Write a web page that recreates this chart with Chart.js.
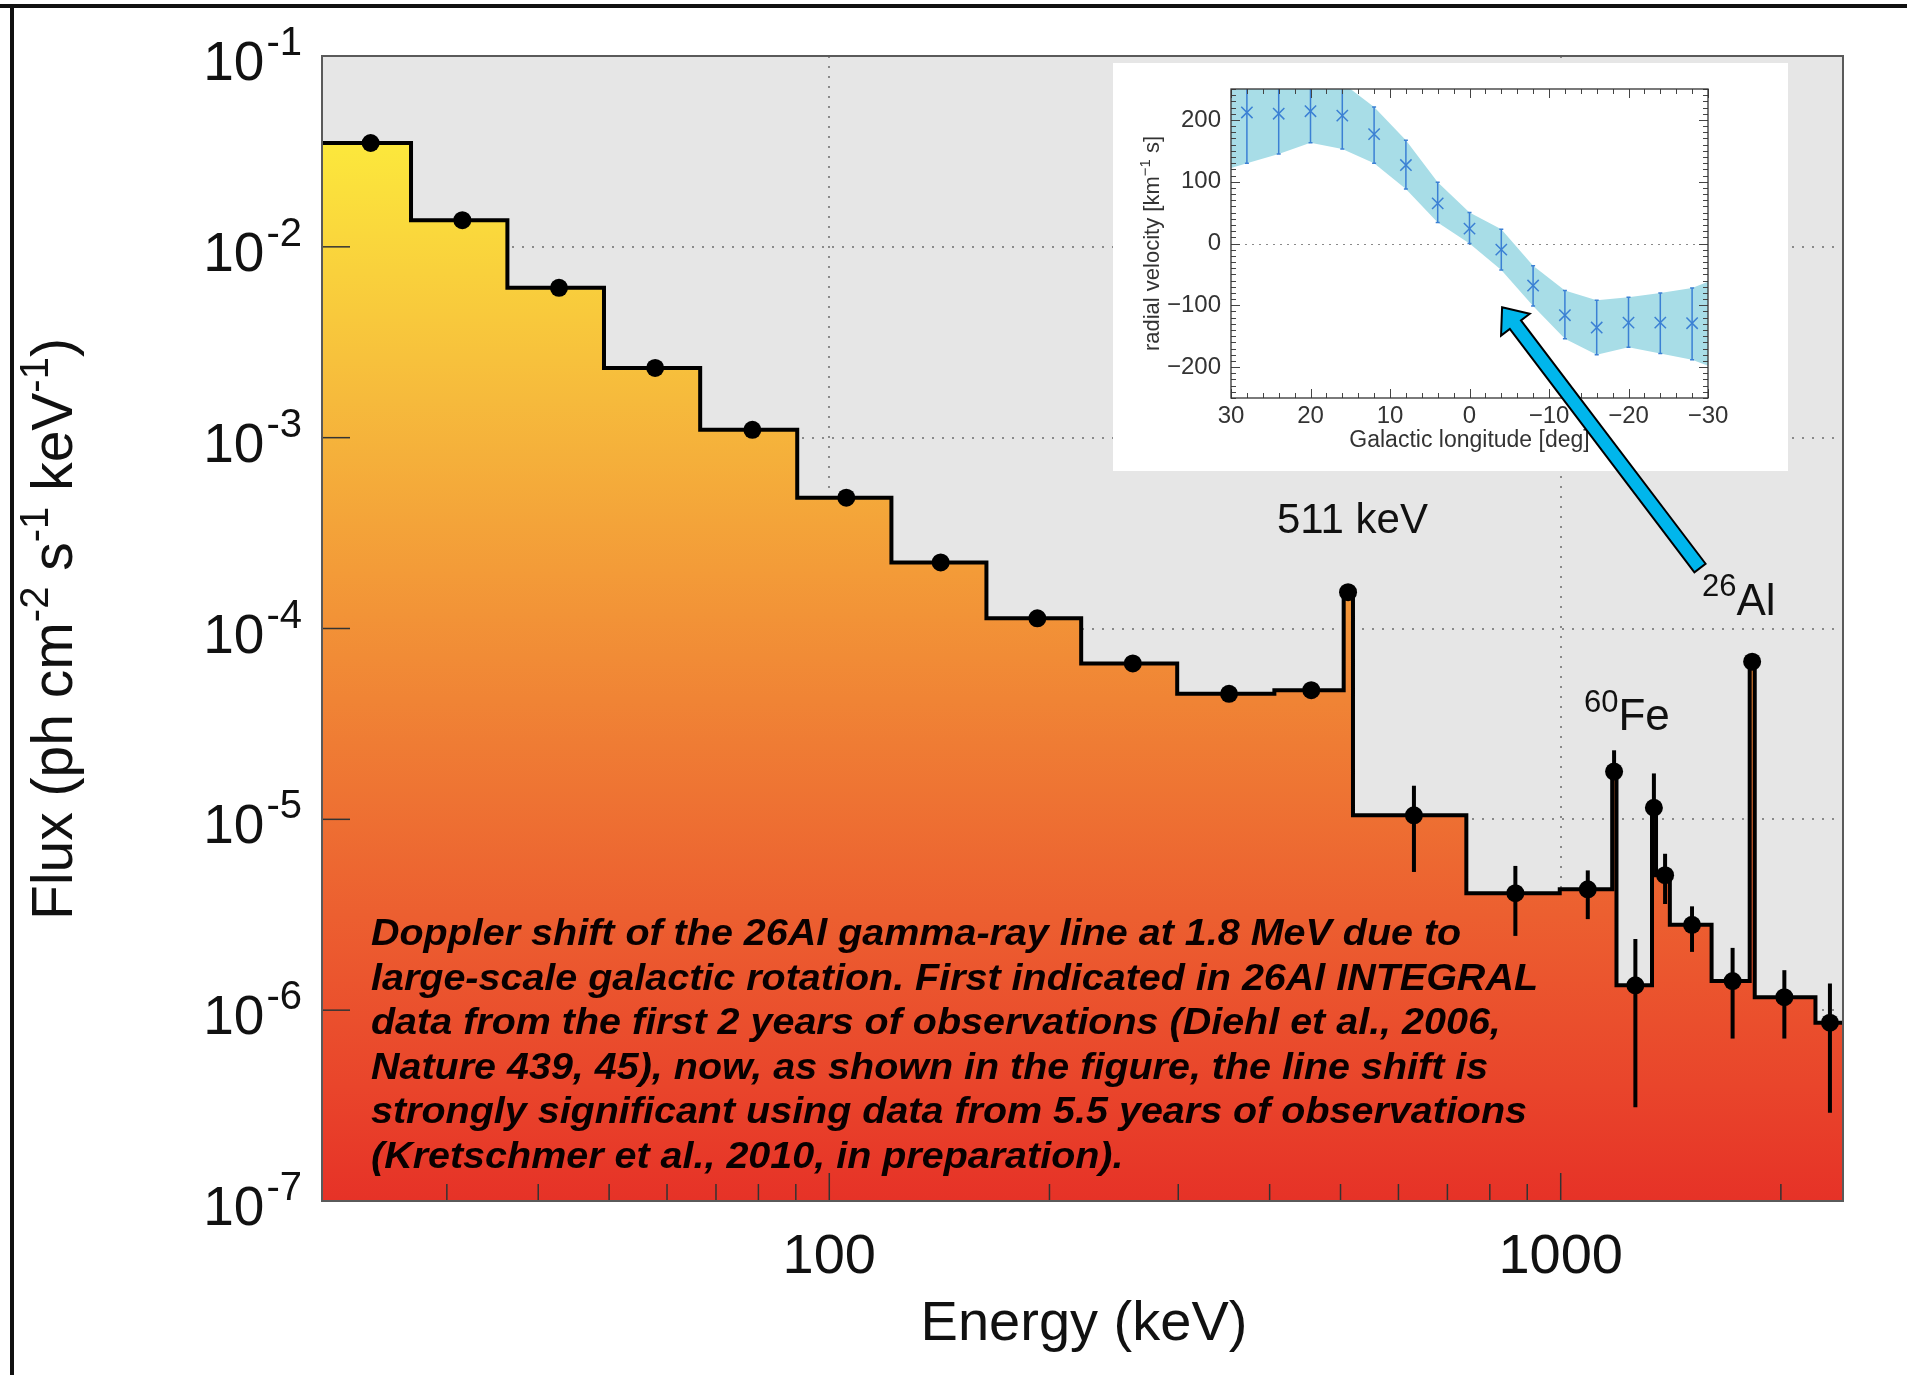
<!DOCTYPE html>
<html>
<head>
<meta charset="utf-8">
<script src="https://cdn.jsdelivr.net/npm/chart.js@4.4.1/dist/chart.umd.min.js"></script>
<style>
  html, body { margin: 0; padding: 0; background: #fff; overflow: hidden; }
  #wrap { position: relative; width: 1907px; height: 1375px; }
  #spec { position: absolute; left: 0; top: 0; }
  #inset { position: absolute; left: 1113px; top: 63px; }
</style>
</head>
<body>
<div id="wrap">
  <canvas id="spec" width="1907" height="1375"></canvas>
  <canvas id="inset" width="675" height="520"></canvas>
</div>
<script>
// ---- spectrum histogram: bin edges (keV) and flux per bin (ph cm^-2 s^-1 keV^-1)
const binEdges = [20.25, 26.8, 36.3, 49.2, 66.6, 90.4, 121.6, 164, 221, 299, 406, 505, 520,
                  743, 997, 1176, 1192, 1333, 1350, 1410, 1608, 1813, 1842, 2230, 2432];
const binFlux = [3.5e-2, 1.38e-2, 6.1e-3, 2.32e-3, 1.10e-3, 4.85e-4, 2.22e-4, 1.13e-4, 6.56e-5,
                 4.55e-5, 4.75e-5, 1.55e-4, 1.05e-5, 4.1e-6, 4.3e-6, 1.78e-5, 1.35e-6, 1.15e-5,
                 5.1e-6, 2.8e-6, 1.42e-6, 6.7e-5, 1.17e-6, 8.6e-7];

// ---- measured points with error bars
const pointEnergy = [23.6, 31.5, 42.7, 57.8, 78.5, 105.5, 142, 192.5, 260, 352, 456, 512,
                     630, 867, 1089, 1183, 1265, 1341, 1389, 1512, 1718, 1827, 2022, 2334];
const pointFlux = [3.5e-2, 1.38e-2, 6.1e-3, 2.32e-3, 1.10e-3, 4.85e-4, 2.22e-4, 1.13e-4, 6.56e-5,
                   4.55e-5, 4.75e-5, 1.55e-4, 1.05e-5, 4.1e-6, 4.3e-6, 1.78e-5, 1.35e-6, 1.15e-5,
                   5.1e-6, 2.8e-6, 1.42e-6, 6.7e-5, 1.17e-6, 8.6e-7];
const pointLo = [3.5e-2, 1.38e-2, 6.1e-3, 2.32e-3, 1.10e-3, 4.85e-4, 2.22e-4, 1.13e-4, 6.56e-5,
                 4.3e-5, 4.45e-5, 1.55e-4, 5.3e-6, 2.45e-6, 3.0e-6, 1.78e-5, 3.1e-7, 1.15e-5,
                 3.6e-6, 2.02e-6, 7.1e-7, 6.7e-5, 7.1e-7, 2.9e-7];
const pointHi = [3.5e-2, 1.38e-2, 6.1e-3, 2.32e-3, 1.10e-3, 4.85e-4, 2.22e-4, 1.13e-4, 6.56e-5,
                 4.85e-5, 5.0e-5, 1.55e-4, 1.5e-5, 5.7e-6, 5.4e-6, 2.3e-5, 2.36e-6, 1.74e-5,
                 6.6e-6, 3.5e-6, 2.12e-6, 6.7e-5, 1.62e-6, 1.38e-6];

// ---- axes
const yTickExp = [-1, -2, -3, -4, -5, -6, -7];
const xTickMajor = [100, 1000];
const xTickMinor = [30, 40, 50, 60, 70, 80, 90, 200, 300, 400, 500, 600, 700, 800, 900, 2000];

// ---- inset: 26Al line centroid vs galactic longitude
const lon = [28, 24, 20, 16, 12, 8, 4, 0, -4, -8, -12, -16, -20, -24, -28];
const vel = [212, 210, 214, 207, 177, 127, 65, 24, -10, -68, -116, -136, -128, -128, -129];
const velHi = [295, 280, 265, 260, 221, 167, 99, 50, 23, -36, -76, -92, -87, -80, -72];
const velLo = [130, 145, 163, 153, 130, 88, 34, 0, -43, -101, -154, -180, -168, -178, -188];
const bandLon = [30, 28, 24, 20, 16, 12, 8, 4, 0, -4, -8, -12, -16, -20, -24, -28, -30];
const bandHi = [300, 295, 280, 265, 260, 221, 167, 99, 50, 23, -36, -76, -92, -87, -80, -72, -62];
const bandLo = [122, 130, 145, 163, 153, 130, 88, 34, 0, -43, -101, -154, -180, -168, -178, -188, -198];
const insetXTicks = [30, 20, 10, 0, -10, -20, -30];
const insetYTicks = [200, 100, 0, -100, -200];

const caption = [
  'Doppler shift of the 26Al gamma-ray line at 1.8 MeV due to',
  'large-scale galactic rotation. First indicated in 26Al INTEGRAL',
  'data from the first 2 years of observations (Diehl et al., 2006,',
  'Nature 439, 45), now, as shown in the figure, the line shift is',
  'strongly significant using data from 5.5 years of observations',
  '(Kretschmer et al., 2010, in preparation).'
];

const SANS = '"Liberation Sans", Arial, Helvetica, sans-serif';
const fillStops = [[0, '#fff13c'], [0.08, '#fce73c'], [0.3, '#f6ba3c'], [0.45, '#f39b38'],
                   [0.6, '#ef7c34'], [0.75, '#ec5f30'], [0.9, '#e9452b'], [1, '#e63227']];

// step outline built from the bins
const stepPoints = [];
binFlux.forEach((f, i) => {
  stepPoints.push({ x: binEdges[i], y: f });
  stepPoints.push({ x: binEdges[i + 1], y: f });
});

function fluxGradient(context) {
  const { ctx, chartArea } = context.chart;
  if (!chartArea) return 'rgba(0,0,0,0)';
  const g = ctx.createLinearGradient(0, chartArea.top, 0, chartArea.bottom);
  fillStops.forEach(([o, c]) => g.addColorStop(o, c));
  return g;
}

// draws text with superscript pieces; parts = [[text, isSup], ...]
function drawParts(ctx, parts, x, y, fs, sfs, rise, align) {
  const widths = parts.map(([t, sup]) => {
    ctx.font = (sup ? sfs : fs) + 'px ' + SANS;
    return ctx.measureText(t).width;
  });
  const total = widths.reduce((a, b) => a + b, 0);
  let cx = align === 'center' ? x - total / 2 : (align === 'right' ? x - total : x);
  ctx.textAlign = 'left';
  ctx.textBaseline = 'alphabetic';
  parts.forEach(([t, sup], i) => {
    ctx.font = (sup ? sfs : fs) + 'px ' + SANS;
    ctx.fillText(t, cx, sup ? y - rise : y);
    cx += widths[i];
  });
}

const specDecor = {
  id: 'specDecor',
  beforeDraw(chart) {
    const { ctx, chartArea: a } = chart;
    ctx.save();
    ctx.fillStyle = '#fff';
    ctx.fillRect(0, 0, chart.width, chart.height);
    ctx.fillStyle = '#e6e6e6';
    ctx.fillRect(a.left, a.top, a.right - a.left, a.bottom - a.top);
    ctx.fillStyle = '#111';
    ctx.fillRect(0, 4, chart.width, 4);
    ctx.fillRect(10, 4, 4, chart.height);
    ctx.restore();
  },
  beforeDatasetsDraw(chart) {
    const { ctx, chartArea: a, scales: { x, y } } = chart;
    ctx.save();
    ctx.strokeStyle = '#8a8a8a';
    ctx.lineWidth = 2;
    ctx.setLineDash([2, 8]);
    yTickExp.slice(1, -1).forEach(e => {
      const py = Math.round(y.getPixelForValue(Math.pow(10, e)));
      ctx.beginPath(); ctx.moveTo(a.left, py); ctx.lineTo(a.right, py); ctx.stroke();
    });
    xTickMajor.forEach(v => {
      const px = Math.round(x.getPixelForValue(v));
      ctx.beginPath(); ctx.moveTo(px, a.top); ctx.lineTo(px, a.bottom); ctx.stroke();
    });
    ctx.restore();
  },
  afterDatasetsDraw(chart) {
    const { ctx, chartArea: a, scales: { x, y } } = chart;
    ctx.save();
    ctx.strokeStyle = '#000';
    ctx.lineWidth = 4;
    pointEnergy.forEach((e, i) => {
      if (pointHi[i] === pointLo[i]) return;
      const px = x.getPixelForValue(e);
      ctx.beginPath();
      ctx.moveTo(px, y.getPixelForValue(pointLo[i]));
      ctx.lineTo(px, y.getPixelForValue(pointHi[i]));
      ctx.stroke();
    });
    // ticks
    ctx.strokeStyle = '#333';
    ctx.lineWidth = 1.5;
    yTickExp.forEach(e => {
      const py = y.getPixelForValue(Math.pow(10, e));
      ctx.beginPath(); ctx.moveTo(a.left, py); ctx.lineTo(a.left + 28, py); ctx.stroke();
    });
    xTickMajor.forEach(v => {
      const px = x.getPixelForValue(v);
      ctx.beginPath(); ctx.moveTo(px, a.bottom); ctx.lineTo(px, a.bottom - 28); ctx.stroke();
    });
    xTickMinor.forEach(v => {
      const px = x.getPixelForValue(v);
      ctx.beginPath(); ctx.moveTo(px, a.bottom); ctx.lineTo(px, a.bottom - 17); ctx.stroke();
    });
    // frame
    ctx.strokeStyle = '#5a5a5a';
    ctx.lineWidth = 2;
    ctx.strokeRect(a.left, a.top, a.right - a.left, a.bottom - a.top);
    ctx.restore();
  },
  afterDraw(chart) {
    const { ctx, chartArea: a, scales: { x, y } } = chart;
    ctx.save();
    ctx.fillStyle = '#111';
    // y tick labels 10^n
    yTickExp.forEach(e => {
      const py = y.getPixelForValue(Math.pow(10, e));
      ctx.font = '40px ' + SANS;
      const sup = '-' + (-e);
      const ws = ctx.measureText(sup).width;
      const x0 = a.left - 20 - ws;
      ctx.textAlign = 'left';
      ctx.fillText(sup, x0, py - 1);
      ctx.font = '55px ' + SANS;
      ctx.textAlign = 'right';
      ctx.fillText('10', x0 - 2, py + 24);
    });
    // x tick labels
    ctx.font = '56px ' + SANS;
    ctx.textAlign = 'center';
    xTickMajor.forEach(v => ctx.fillText(String(v), x.getPixelForValue(v), 1273));
    ctx.fillText('Energy (keV)', 1084, 1340);
    // y title
    ctx.save();
    ctx.translate(72, 629);
    ctx.rotate(-Math.PI / 2);
    drawParts(ctx, [['Flux (ph cm', false], ['-2', true], [' s', false], ['-1', true],
                    [' keV', false], ['-1', true], [')', false]], 0, 0, 57, 40, 24, 'center');
    ctx.restore();
    // line labels
    drawParts(ctx, [['511 keV', false]], x.getPixelForValue(511) + 5, 533, 42, 30, 0, 'center');
    drawParts(ctx, [['60', true], ['Fe', false]], 1584, 730, 44, 31, 18, 'left');
    drawParts(ctx, [['26', true], ['Al', false]], 1702, 615, 44, 31, 19, 'left');
    // caption
    ctx.font = 'italic bold 36px ' + SANS;
    const sx = 1167 / ctx.measureText(caption[1]).width;
    ctx.textAlign = 'left';
    ctx.fillStyle = '#0a0000';
    caption.forEach((line, i) => {
      ctx.save();
      ctx.translate(371, 945 + i * 44.6);
      ctx.scale(sx, 1);
      ctx.fillText(line, 0, 0);
      ctx.restore();
    });
    ctx.restore();
  }
};

new Chart(document.getElementById('spec'), {
  type: 'line',
  data: {
    datasets: [
      {
        type: 'scatter',
        data: pointEnergy.map((e, i) => ({ x: e, y: pointFlux[i] })),
        pointRadius: 9,
        pointBackgroundColor: '#000',
        pointBorderWidth: 0,
        order: 0
      },
      {
        data: stepPoints,
        borderColor: '#000',
        borderWidth: 4,
        pointRadius: 0,
        fill: 'start',
        backgroundColor: fluxGradient,
        tension: 0,
        order: 1
      }
    ]
  },
  options: {
    responsive: false,
    devicePixelRatio: 1,
    animation: false,
    layout: { padding: { left: 322, top: 56, right: 64, bottom: 174 } },
    plugins: { legend: { display: false }, tooltip: { enabled: false } },
    scales: {
      x: { type: 'logarithmic', min: 20.25, max: 2432, display: false },
      y: { type: 'logarithmic', min: 1e-7, max: 1e-1, display: false }
    }
  },
  plugins: [specDecor]
});

// ---------------- inset ----------------
const INSET_H = 408;
const insetDecor = {
  id: 'insetDecor',
  beforeDraw(chart) {
    const { ctx } = chart;
    ctx.save();
    ctx.fillStyle = '#fff';
    ctx.fillRect(0, 0, chart.width, INSET_H);
    ctx.restore();
  },
  beforeDatasetsDraw(chart) {
    const { ctx, chartArea: a, scales: { y } } = chart;
    ctx.save();
    ctx.strokeStyle = '#8a8a8a';
    ctx.lineWidth = 1;
    ctx.setLineDash([2, 5]);
    const py = Math.round(y.getPixelForValue(0)) + 0.5;
    ctx.beginPath(); ctx.moveTo(a.left, py); ctx.lineTo(a.right, py); ctx.stroke();
    ctx.restore();
  },
  afterDatasetsDraw(chart) {
    const { ctx, chartArea: a, scales: { x, y } } = chart;
    ctx.save();
    ctx.beginPath();
    ctx.rect(a.left, a.top, a.right - a.left, a.bottom - a.top);
    ctx.clip();
    ctx.strokeStyle = '#3b80d4';
    ctx.lineWidth = 1.5;
    lon.forEach((l, i) => {
      const px = x.getPixelForValue(l);
      const y1 = y.getPixelForValue(velLo[i]), y2 = y.getPixelForValue(velHi[i]);
      ctx.beginPath();
      ctx.moveTo(px, y1); ctx.lineTo(px, y2);
      ctx.moveTo(px - 2, y1); ctx.lineTo(px + 2, y1);
      ctx.moveTo(px - 2, y2); ctx.lineTo(px + 2, y2);
      ctx.stroke();
    });
    ctx.restore();
  },
  afterDraw(chart) {
    const { ctx, chartArea: a, scales: { x, y } } = chart;
    ctx.save();
    ctx.strokeStyle = '#444';
    ctx.lineWidth = 1;
    for (let v = -30; v <= 30; v += 2) {
      const px = Math.round(x.getPixelForValue(v)) + 0.5;
      const len = v % 10 === 0 ? 9 : 5;
      ctx.beginPath();
      ctx.moveTo(px, a.bottom); ctx.lineTo(px, a.bottom - len);
      ctx.moveTo(px, a.top); ctx.lineTo(px, a.top + len);
      ctx.stroke();
    }
    for (let v = -250; v <= 250; v += 10) {
      const py = Math.round(y.getPixelForValue(v)) + 0.5;
      const len = v % 100 === 0 ? 9 : 5;
      ctx.beginPath();
      ctx.moveTo(a.left, py); ctx.lineTo(a.left + len, py);
      ctx.moveTo(a.right, py); ctx.lineTo(a.right - len, py);
      ctx.stroke();
    }
    ctx.strokeStyle = '#333';
    ctx.lineWidth = 1.3;
    ctx.strokeRect(a.left, a.top, a.right - a.left, a.bottom - a.top);

    ctx.fillStyle = '#333';
    ctx.font = '24px ' + SANS;
    ctx.textAlign = 'center';
    ctx.textBaseline = 'alphabetic';
    const fmt = v => (v < 0 ? '\u2212' + (-v) : String(v));
    insetXTicks.forEach(v => ctx.fillText(fmt(v), x.getPixelForValue(v), a.bottom + 25));
    ctx.textAlign = 'right';
    ctx.textBaseline = 'middle';
    insetYTicks.forEach(v => ctx.fillText(fmt(v), a.left - 10, y.getPixelForValue(v)));
    ctx.textBaseline = 'alphabetic';
    ctx.textAlign = 'center';
    ctx.font = '23px ' + SANS;
    ctx.fillText('Galactic longitude [deg]', (a.left + a.right) / 2, a.bottom + 49);
    ctx.save();
    ctx.translate(46, (a.top + a.bottom) / 2);
    ctx.rotate(-Math.PI / 2);
    drawParts(ctx, [['radial velocity [km', false], ['\u22121', true], [' s]', false]],
              0, 0, 22, 15, 9, 'center');
    ctx.restore();

    // arrow from the 26Al label up to the inset curve
    const tip = { x: x.getPixelForValue(-4.1), y: y.getPixelForValue(-103) };
    const tail = { x: 587, y: 505 };
    const dx = tip.x - tail.x, dy = tip.y - tail.y;
    const len = Math.hypot(dx, dy);
    const ux = dx / len, uy = dy / len, nx = -uy, ny = ux;
    const hw = 7, headLen = 22, headW = 18;
    const bx = tip.x - ux * headLen, by = tip.y - uy * headLen;
    ctx.beginPath();
    ctx.moveTo(tail.x + nx * hw, tail.y + ny * hw);
    ctx.lineTo(bx + nx * hw, by + ny * hw);
    ctx.lineTo(bx + nx * headW, by + ny * headW);
    ctx.lineTo(tip.x, tip.y);
    ctx.lineTo(bx - nx * headW, by - ny * headW);
    ctx.lineTo(bx - nx * hw, by - ny * hw);
    ctx.lineTo(tail.x - nx * hw, tail.y - ny * hw);
    ctx.closePath();
    ctx.fillStyle = '#00b6ec';
    ctx.fill();
    ctx.strokeStyle = '#000';
    ctx.lineWidth = 2;
    ctx.lineJoin = 'miter';
    ctx.stroke();
    ctx.restore();
  }
};

new Chart(document.getElementById('inset'), {
  type: 'line',
  data: {
    datasets: [
      {
        type: 'scatter',
        data: lon.map((l, i) => ({ x: l, y: vel[i] })),
        pointStyle: 'crossRot',
        pointRadius: 8,
        pointBorderColor: '#3b80d4',
        pointBorderWidth: 1.5,
        order: 0
      },
      {
        data: bandLon.map((l, i) => ({ x: l, y: bandHi[i] })),
        borderWidth: 0,
        pointRadius: 0,
        fill: false,
        order: 2
      },
      {
        data: bandLon.map((l, i) => ({ x: l, y: bandLo[i] })),
        borderWidth: 0,
        pointRadius: 0,
        fill: '-1',
        backgroundColor: '#a8dde7',
        order: 1
      }
    ]
  },
  options: {
    responsive: false,
    devicePixelRatio: 1,
    animation: false,
    layout: { padding: { left: 118, top: 26, right: 80, bottom: 185 } },
    plugins: { legend: { display: false }, tooltip: { enabled: false } },
    scales: {
      x: { type: 'linear', min: -30, max: 30, reverse: true, display: false },
      y: { type: 'linear', min: -250, max: 250, display: false }
    }
  },
  plugins: [insetDecor]
});
</script>
</body>
</html>
